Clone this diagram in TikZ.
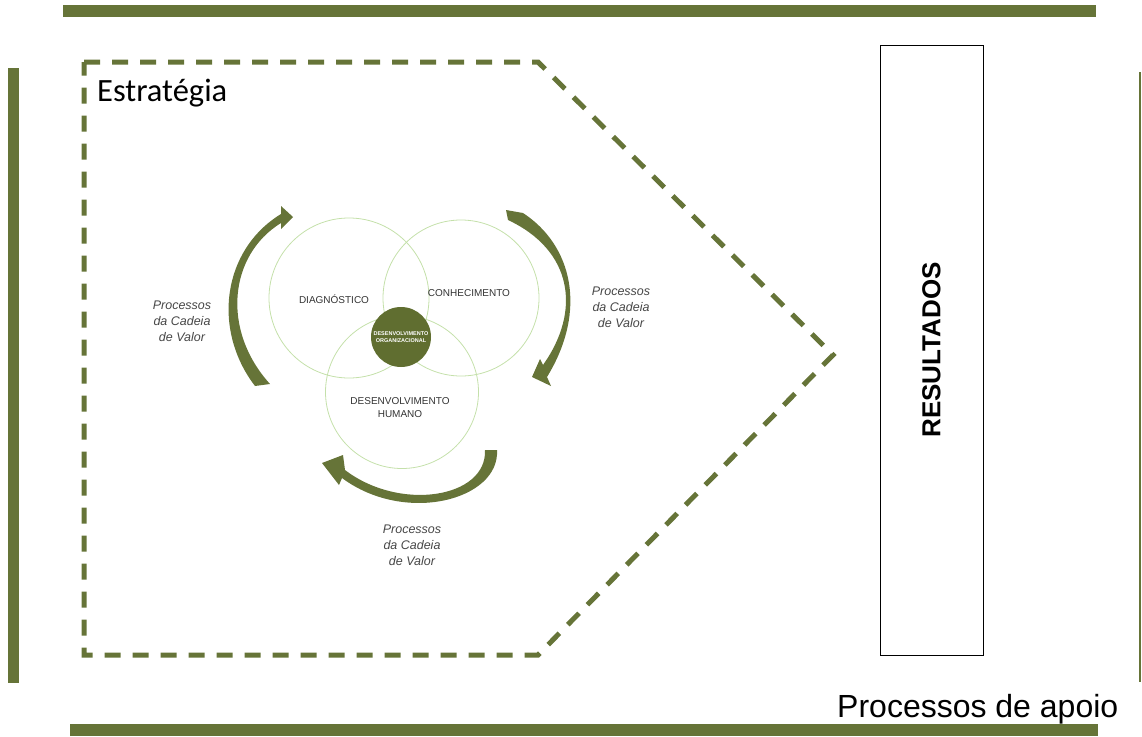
\documentclass[tikz,border=0pt]{standalone}
\usepackage{fontspec}
\setmainfont{Liberation Sans}
\newfontfamily\carlito{Carlito}
\definecolor{verdebar}{RGB}{102,116,56}
\definecolor{verdeclaro}{RGB}{196,224,170}
\definecolor{verdeescuro}{RGB}{96,110,48}
\definecolor{cinzatexto}{RGB}{70,70,70}

\begin{document}
\begin{tikzpicture}[x=1pt, y=-1pt,
bar/.style={draw=verdebar, line width=12pt},
venn/.style={circle, draw=verdeclaro, line width=0.8pt, inner sep=0pt},
rotulo/.style={font=\fontsize{10}{13}\selectfont, text=black!80, align=center},
processo/.style={font=\fontsize{12.5}{15.8}\selectfont\itshape, text=cinzatexto, align=center},
seta/.style={fill=verdebar, draw=none}
]
\useasboundingbox (0,0) rectangle (1142,736);
% barras verdes
\draw[bar] (63,11) -- (1096,11);
\draw[bar] (70,730) -- (1098,730);
\draw[bar, line width=11pt] (13.5,68) -- (13.5,683);
\draw[bar, line width=2pt] (1140,72) -- (1140,682);
% estrategia
\draw[verdebar, line width=5pt, dash pattern=on 16pt off 12pt]
  (84,62) -- (538,62) -- (833,355) -- (538,655) -- (84,655) -- cycle;
\node[anchor=base west, inner sep=0pt, font=\carlito\fontsize{32.5}{32.5}\selectfont] (estrategia) at (97,101) {Estratégia};
% circulos
\node[venn, minimum size=160pt] (diagnostico) at (349,298) {};
\node[venn, minimum size=156pt] (conhecimento) at (461,298) {};
\node[venn, minimum size=153pt] (humano) at (402,392) {};
\node[circle, fill=verdeescuro, minimum size=60pt, inner sep=0pt, align=center, text=white,
  font=\bfseries\fontsize{5.5}{7.5}\selectfont] (organizacional) at (401,337) {DESENVOLVIMENTO\\ORGANIZACIONAL};
\node[rotulo] (diagtexto) at (334,299) {DIAGNÓSTICO};
\node[rotulo] (conhtexto) at (469,293) {CONHECIMENTO};
\node[rotulo] (humtexto) at (400,408) {DESENVOLVIMENTO\\HUMANO};
% setas curvas
\fill[seta] (255,386) .. controls (212,330) and (222,250) .. (281,214) -- (281,206) -- (293,217)
  -- (281,229) -- (281,223) .. controls (229,255) and (221,330) .. (270,384) -- cycle;
\fill[seta] (506,210) -- (523,213) .. controls (572,245) and (588,310) .. (547,377) -- (551,386)
  -- (532,377) -- (540,359) -- (543,365) .. controls (582,310) and (572,250) .. (508,220) -- cycle;
\fill[seta] (485,450) -- (497,450) .. controls (500,500) and (405,525) .. (342,478) -- (339,485)
  -- (322,463) -- (343,455) -- (345,470) .. controls (400,512) and (487,498) .. (485,450) -- cycle;
\node[processo] (cadeiaesq) at (182,321) {Processos\\da Cadeia\\de Valor};
\node[processo] (cadeiadir) at (621,307) {Processos\\da Cadeia\\de Valor};
\node[processo] (cadeiabaixo) at (412,545) {Processos\\da Cadeia\\de Valor};
% resultados
\node[draw, line width=1pt, rotate=90, minimum width=610pt, minimum height=103pt, inner sep=0pt,
  font=\bfseries\fontsize{26}{26}\selectfont] (resultados) at (931.5,350) {RESULTADOS};
\node[anchor=base west, inner sep=0pt, font=\fontsize{32}{32}\selectfont] (apoio) at (837,717) {Processos de apoio};
\end{tikzpicture}
\end{document}
